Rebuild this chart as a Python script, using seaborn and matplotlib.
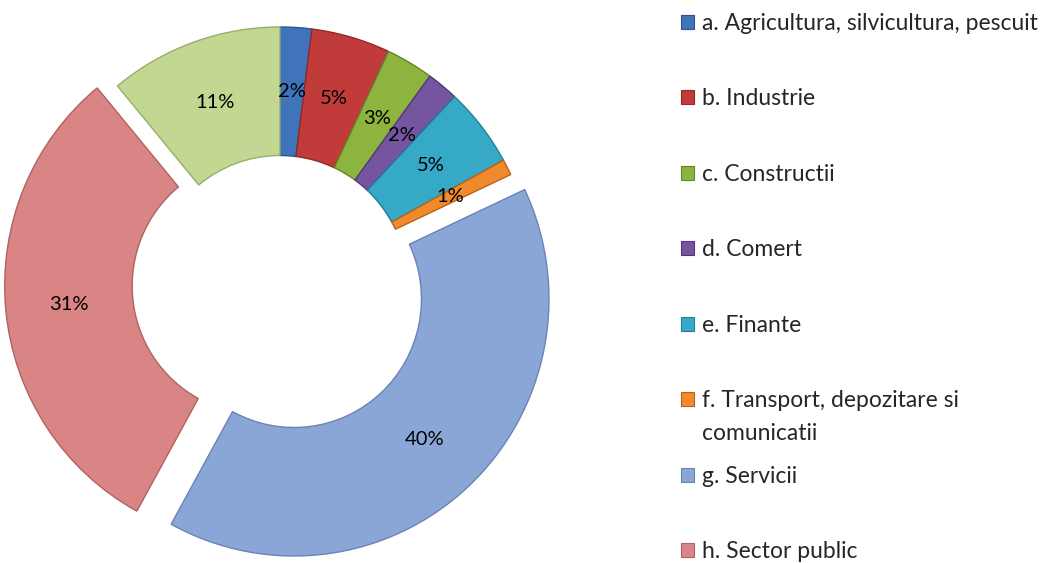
import matplotlib
matplotlib.use("Agg")
import matplotlib.pyplot as plt
import seaborn as sns
from matplotlib.patches import Patch

# ----- Data -----
categories = ["a. Agricultura, silvicultura, pescuit", "b. Industrie", "c. Constructii",
              "d. Comert", "e. Finante", "f. Transport, depozitare si comunicatii",
              "g. Servicii", "h. Sector public", "i. Altele"]
values = [2, 5, 3, 2, 5, 1, 40, 31, 11]
explode = [0, 0, 0, 0, 0, 0, 0.08, 0.08, 0]
colors = ["#3f74bb", "#c03b3a", "#8cb43f", "#7554a0", "#35a9c6", "#f08a2c",
          "#8aa6d6", "#d98585", "#c2d792"]
edge_colors = ["#2a5590", "#8e2a29", "#65852c", "#54397a", "#237f96", "#b8631a",
               "#6a84b4", "#b06262", "#99ad6c"]

sns.set_theme(style="white")
plt.rcParams["font.family"] = ["Lato", "DejaVu Sans"]

fig = plt.figure(figsize=(10.54, 5.63), dpi=100)
ax = fig.add_axes([0, 0, 560 / 1054, 1])

wedges, texts, autotexts = ax.pie(
    values, explode=explode, colors=colors, startangle=90, counterclock=False,
    autopct="%.0f%%", pctdistance=0.75, radius=1.0,
    wedgeprops=dict(width=0.5, linewidth=1.0),
    textprops=dict(fontsize=14.5, color="black"))
for w, ec in zip(wedges, edge_colors):
    w.set_edgecolor(ec)

# pixel layout: centre at (280, 284), ~255 px per unit
ax.set_aspect("auto")
ax.set_xlim(-280 / 255, (560 - 280) / 255)
ax.set_ylim(-(563 - 284) / 257, 284 / 257)
ax.axis("off")

# ----- Legend -----
legend_labels = categories[:8]
legend_labels[5] = "f. Transport, depozitare si"
handles = [Patch(facecolor=c, edgecolor=e, linewidth=0.8) for c, e in zip(colors[:8], edge_colors[:8])]
fig.legend(handles, legend_labels, loc="upper left",
           bbox_to_anchor=(681 / 1054, 1 - 13 / 563), frameon=False,
           fontsize=16.5, borderpad=0, borderaxespad=0,
           handlelength=0.55, handleheight=0.55, handletextpad=0.35,
           labelspacing=2.377)
fig.text(702 / 1054, 1 - 433 / 563, "comunicatii", fontsize=16.5, va="center", ha="left")

fig.savefig("out.png", dpi=100)
